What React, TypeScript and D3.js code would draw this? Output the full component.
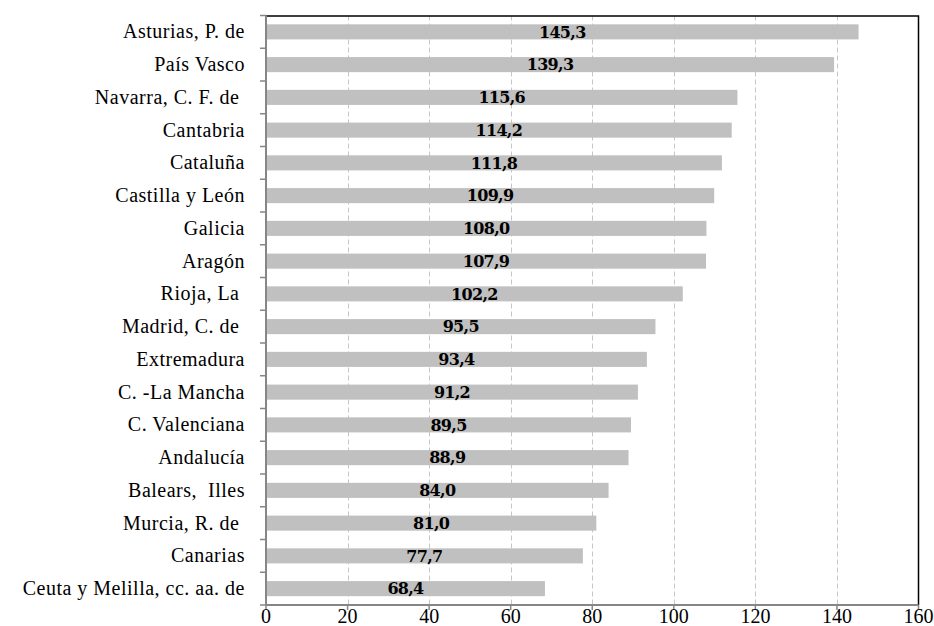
import { useEffect, useRef } from 'react'
import * as d3 from 'd3'

const regions = [
  'Asturias, P. de',
  'País Vasco',
  'Navarra, C. F. de ',
  'Cantabria',
  'Cataluña',
  'Castilla y León',
  'Galicia',
  'Aragón',
  'Rioja, La ',
  'Madrid, C. de ',
  'Extremadura',
  'C. -La Mancha',
  'C. Valenciana',
  'Andalucía',
  'Balears,  Illes',
  'Murcia, R. de ',
  'Canarias',
  'Ceuta y Melilla, cc. aa. de',
]

const values = [
  145.3, 139.3, 115.6, 114.2, 111.8, 109.9, 108.0, 107.9, 102.2, 95.5, 93.4, 91.2, 89.5, 88.9, 84.0,
  81.0, 77.7, 68.4,
]

const xTicks = [0, 20, 40, 60, 80, 100, 120, 140, 160]

const W = 934
const H = 626
const margin = { left: 266, right: 15.5, top: 15.5, bottom: 21 }
const labelFont = 'Liberation Serif'

export default function App() {
  const svgRef = useRef<SVGSVGElement | null>(null)

  useEffect(() => {
    const svgEl = svgRef.current
    if (!svgEl) return
    const svg = d3.select(svgEl)
    svg.selectAll('*').remove()

    const x = d3
      .scaleLinear()
      .domain([0, 160])
      .range([margin.left, W - margin.right])
    const y = d3
      .scaleBand<string>()
      .domain(regions)
      .range([margin.top, H - margin.bottom])
      .paddingInner(0.54)
      .paddingOuter(0.27)

    const top = margin.top
    const bottom = H - margin.bottom
    const step = y.step()

    // dashed grid
    svg
      .append('g')
      .selectAll('line')
      .data(xTicks.filter((t) => t > 0 && t < 160))
      .enter()
      .append('line')
      .attr('x1', (d) => Math.round(x(d)) + 0.5)
      .attr('x2', (d) => Math.round(x(d)) + 0.5)
      .attr('y1', top)
      .attr('y2', bottom)
      .attr('stroke', '#c6c6c6')
      .attr('stroke-width', 1)
      .attr('stroke-dasharray', '5,3')

    // bars
    svg
      .append('g')
      .selectAll('rect')
      .data(values)
      .enter()
      .append('rect')
      .attr('x', x(0))
      .attr('y', (_, i) => y(regions[i]) ?? 0)
      .attr('width', (d) => x(d) - x(0))
      .attr('height', y.bandwidth())
      .attr('fill', '#c0c0c0')

    // value labels
    svg
      .append('g')
      .selectAll('text')
      .data(values)
      .enter()
      .append('text')
      .attr('x', (d) => (x(0) + x(d)) / 2)
      .attr('y', (_, i) => (y(regions[i]) ?? 0) + y.bandwidth() / 2)
      .attr('dy', '0.36em')
      .attr('text-anchor', 'middle')
      .style('font-family', 'DejaVu Serif')
      .style('font-weight', 'bold')
      .style('font-size', '16px')
      .style('letter-spacing', '-0.7px')
      .attr('fill', '#000')
      .text((d) => d.toFixed(1).replace('.', ','))

    // frame: top and right black
    svg
      .append('path')
      .attr('d', `M${x(0)},${top + 0.5}H${W - margin.right}V${bottom}`)
      .attr('fill', 'none')
      .attr('stroke', '#000')
      .attr('stroke-width', 1.5)

    // left axis
    const axisColor = '#868686'
    svg
      .append('line')
      .attr('x1', x(0))
      .attr('x2', x(0))
      .attr('y1', top)
      .attr('y2', bottom)
      .attr('stroke', axisColor)
      .attr('stroke-width', 2)
    svg
      .append('g')
      .selectAll('line')
      .data(d3.range(regions.length + 1))
      .enter()
      .append('line')
      .attr('x1', x(0) - 6)
      .attr('x2', x(0))
      .attr('y1', (i) => top + i * step)
      .attr('y2', (i) => top + i * step)
      .attr('stroke', axisColor)
      .attr('stroke-width', 1.5)

    // bottom axis
    svg
      .append('line')
      .attr('x1', x(0))
      .attr('x2', W - margin.right)
      .attr('y1', bottom)
      .attr('y2', bottom)
      .attr('stroke', axisColor)
      .attr('stroke-width', 2)
    svg
      .append('g')
      .selectAll('line')
      .data(xTicks)
      .enter()
      .append('line')
      .attr('x1', (d) => x(d))
      .attr('x2', (d) => x(d))
      .attr('y1', bottom)
      .attr('y2', bottom + 5)
      .attr('stroke', axisColor)
      .attr('stroke-width', 1.5)

    // tick labels
    svg
      .append('g')
      .selectAll('text')
      .data(xTicks)
      .enter()
      .append('text')
      .attr('x', (d) => x(d))
      .attr('y', bottom + 18)
      .attr('text-anchor', 'middle')
      .style('font-family', labelFont)
      .style('font-size', '20px')
      .attr('fill', '#000')
      .text((d) => String(d))

    // category labels
    svg
      .append('g')
      .selectAll('text')
      .data(regions)
      .enter()
      .append('text')
      .attr('x', x(0) - 21)
      .attr('y', (d) => (y(d) ?? 0) + y.bandwidth() / 2)
      .attr('dy', '0.33em')
      .attr('text-anchor', 'end')
      .style('font-family', labelFont)
      .style('font-size', '20px')
      .style('letter-spacing', '0.5px')
      .style('white-space', 'pre')
      .attr('fill', '#000')
      .text((d) => d)
  }, [])

  return (
    <svg
      ref={svgRef}
      width={W}
      height={H}
      style={{ position: 'absolute', left: 0, top: 0, background: '#fff' }}
    />
  )
}
